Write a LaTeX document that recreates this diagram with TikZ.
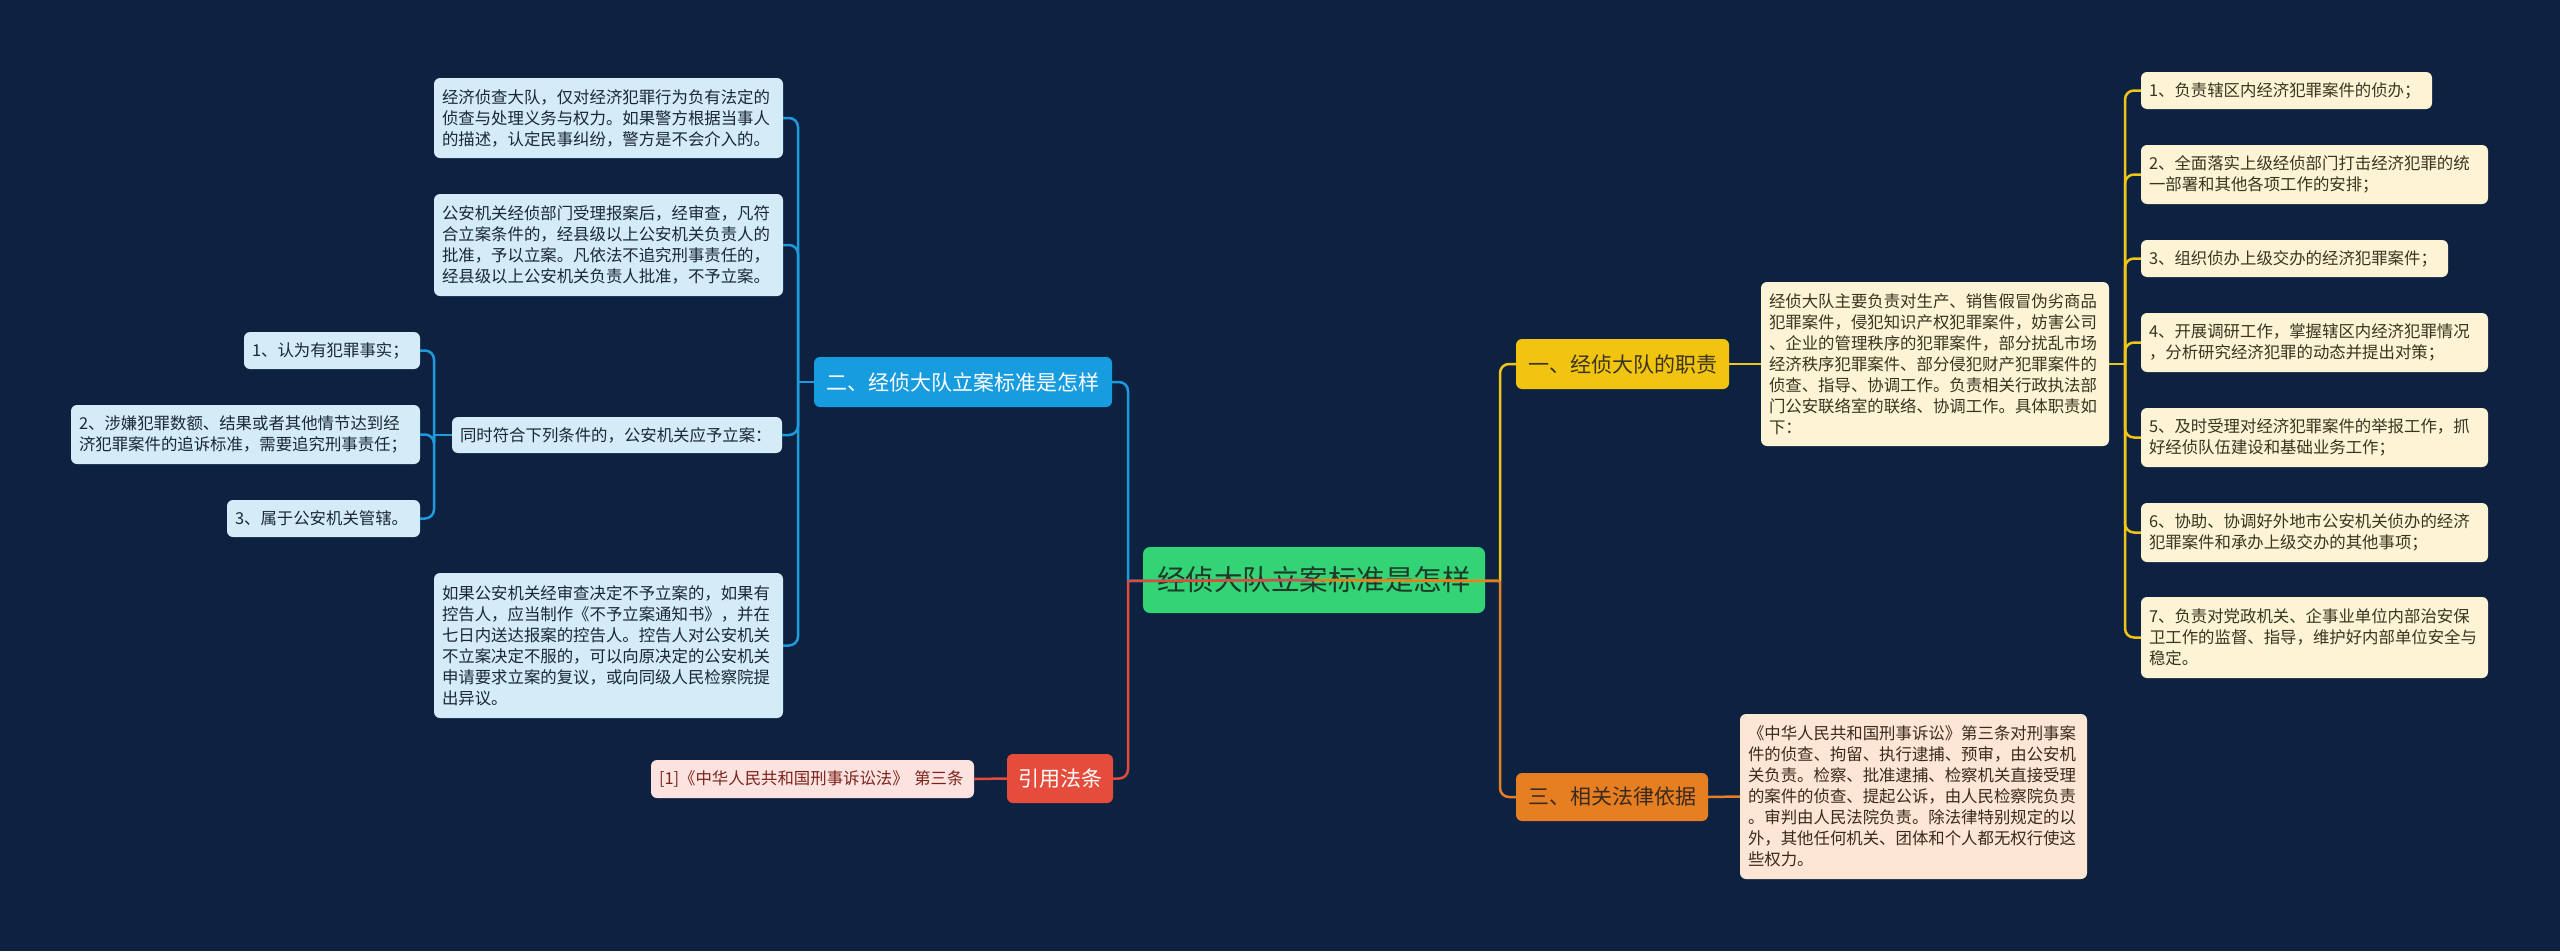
\documentclass[tikz,border=0pt]{standalone}
\usepackage{fontspec}
\setmainfont{Noto Sans CJK SC}
\definecolor{bg}{HTML}{0C2240}
\definecolor{rootfill}{HTML}{33D475}
\definecolor{roottext}{HTML}{1E3B2A}
\definecolor{bline}{HTML}{1E9BDF}
\definecolor{bfill}{HTML}{189CE0}
\definecolor{bleaf}{HTML}{D3ECF8}
\definecolor{bltext}{HTML}{1B2733}
\definecolor{rline}{HTML}{E04B3A}
\definecolor{rfill}{HTML}{E64C3C}
\definecolor{rleaf}{HTML}{FDE3DF}
\definecolor{rltext}{HTML}{7B241C}
\definecolor{yline}{HTML}{F0C419}
\definecolor{yfill}{HTML}{F1C40F}
\definecolor{yleaf}{HTML}{FDF4D6}
\definecolor{yltext}{HTML}{3B3320}
\definecolor{oline}{HTML}{E67E22}
\definecolor{ofill}{HTML}{E67E22}
\definecolor{oleaf}{HTML}{FDE6D3}
\definecolor{oltext}{HTML}{3A2A1E}
\begin{document}
\begin{tikzpicture}[x=1pt,y=-1pt,
  conn/.style={line width=2.5pt},
  rc/.style={rounded corners=9pt},
  box/.style={rounded corners=6pt, inner xsep=8pt, inner ysep=0pt, align=left,
    font=\fontsize{16.4}{21}\selectfont},
  bleafbox/.style={box, fill=bleaf, text=bltext},
  rleafbox/.style={box, fill=rleaf, text=rltext},
  yleafbox/.style={box, fill=yleaf, text=yltext},
  oleafbox/.style={box, fill=oleaf, text=oltext},
  branch/.style={rounded corners=6pt, inner sep=0pt, align=center,
    font=\fontsize{21}{24}\selectfont},
  rootbox/.style={rounded corners=7pt, inner sep=0pt, fill=rootfill, text=roottext,
    font=\fontsize{28.5}{32}\selectfont}
]
\fill[bg] (0,0) rectangle (2560,951);
\useasboundingbox (0,0) rectangle (2560,951);

% root
\node[rootbox, minimum width=342pt, minimum height=66pt] (root) at (1314,580) {经侦大队立案标准是怎样};

% branches
\node[branch, fill=bfill, text=white, minimum width=298pt, minimum height=50pt] (b2) at (963,382) {二、经侦大队立案标准是怎样};
\node[branch, fill=rfill, text=white, minimum width=106pt, minimum height=49pt] (r1) at (1060,778.5) {引用法条};
\node[branch, fill=yfill, text=yltext, minimum width=213pt, minimum height=50pt] (y1) at (1622.5,364) {一、经侦大队的职责};
\node[branch, fill=ofill, text=oltext, minimum width=192pt, minimum height=48pt] (o1) at (1612,797) {三、相关法律依据};

% blue leaves
\node[bleafbox, minimum width=349pt, text width=333pt, minimum height=80pt] (bA) at (608.5,118) {经济侦查大队，仅对经济犯罪行为负有法定的\\侦查与处理义务与权力。如果警方根据当事人\\的描述，认定民事纠纷，警方是不会介入的。};
\node[bleafbox, minimum width=349pt, text width=333pt, minimum height=102pt] (bB) at (608.5,245) {公安机关经侦部门受理报案后，经审查，凡符\\合立案条件的，经县级以上公安机关负责人的\\批准，予以立案。凡依法不追究刑事责任的，\\经县级以上公安机关负责人批准，不予立案。};
\node[bleafbox, minimum width=330pt, text width=314pt, minimum height=36pt] (bC) at (617,435) {同时符合下列条件的，公安机关应予立案：};
\node[bleafbox, minimum width=349pt, text width=333pt, minimum height=145pt] (bD) at (608.5,645.5) {如果公安机关经审查决定不予立案的，如果有\\控告人，应当制作《不予立案通知书》，并在\\七日内送达报案的控告人。控告人对公安机关\\不立案决定不服的，可以向原决定的公安机关\\申请要求立案的复议，或向同级人民检察院提\\出异议。};
\node[bleafbox, minimum width=176pt, text width=160pt, minimum height=37pt] (c1) at (332,350.5) {1、认为有犯罪事实；};
\node[bleafbox, minimum width=349pt, text width=333pt, minimum height=59pt] (c2) at (245.5,434.5) {2、涉嫌犯罪数额、结果或者其他情节达到经\\济犯罪案件的追诉标准，需要追究刑事责任；};
\node[bleafbox, minimum width=193pt, text width=177pt, minimum height=37pt] (c3) at (323.5,518.5) {3、属于公安机关管辖。};

% red leaf
\node[rleafbox, minimum width=323pt, text width=307pt, minimum height=38pt] (cit) at (812.5,779) {[1]《中华人民共和国刑事诉讼法》 第三条};

% yellow leaves
\node[yleafbox, minimum width=348pt, text width=332pt, minimum height=164pt] (yd) at (1935,364) {经侦大队主要负责对生产、销售假冒伪劣商品\\犯罪案件，侵犯知识产权犯罪案件，妨害公司\\、企业的管理秩序的犯罪案件，部分扰乱市场\\经济秩序犯罪案件、部分侵犯财产犯罪案件的\\侦查、指导、协调工作。负责相关行政执法部\\门公安联络室的联络、协调工作。具体职责如\\下：};
\node[yleafbox, minimum width=291pt, text width=275pt, minimum height=37pt] (i1) at (2286.5,90.5) {1、负责辖区内经济犯罪案件的侦办；};
\node[yleafbox, minimum width=347pt, text width=331pt, minimum height=59pt] (i2) at (2314.5,174.5) {2、全面落实上级经侦部门打击经济犯罪的统\\一部署和其他各项工作的安排；};
\node[yleafbox, minimum width=307pt, text width=291pt, minimum height=37pt] (i3) at (2294.5,258.5) {3、组织侦办上级交办的经济犯罪案件；};
\node[yleafbox, minimum width=347pt, text width=331pt, minimum height=59pt] (i4) at (2314.5,342.5) {4、开展调研工作，掌握辖区内经济犯罪情况\\，分析研究经济犯罪的动态并提出对策；};
\node[yleafbox, minimum width=347pt, text width=331pt, minimum height=59pt] (i5) at (2314.5,437.5) {5、及时受理对经济犯罪案件的举报工作，抓\\好经侦队伍建设和基础业务工作；};
\node[yleafbox, minimum width=347pt, text width=331pt, minimum height=59pt] (i6) at (2314.5,532.5) {6、协助、协调好外地市公安机关侦办的经济\\犯罪案件和承办上级交办的其他事项；};
\node[yleafbox, minimum width=347pt, text width=331pt, minimum height=81pt] (i7) at (2314.5,637.5) {7、负责对党政机关、企事业单位内部治安保\\卫工作的监督、指导，维护好内部单位安全与\\稳定。};

% orange leaf
\node[oleafbox, minimum width=347pt, text width=331pt, minimum height=165pt] (od) at (1913.5,796.5) {《中华人民共和国刑事诉讼》第三条对刑事案\\件的侦查、拘留、执行逮捕、预审，由公安机\\关负责。检察、批准逮捕、检察机关直接受理\\的案件的侦查、提起公诉，由人民检察院负责\\。审判由人民法院负责。除法律特别规定的以\\外，其他任何机关、团体和个人都无权行使这\\些权力。};

% bus coordinates
\coordinate (lbus) at (1128,581);
\coordinate (rbus) at (1500,581);
\coordinate (bb) at (798,382);
\coordinate (cb) at (434,435);
\coordinate (yb) at (2125,364);

% connectors: blue
\draw[conn, bline] (root.center) -- (lbus);
\draw[conn, bline, rc] (lbus) |- (b2.east);
\draw[conn, bline] (b2.west) -- (bb);
\draw[conn, bline, rc] (bb) |- (bA.east);
\draw[conn, bline, rc] (bb) |- (bB.east);
\draw[conn, bline, rc] (bb) |- (bC.east);
\draw[conn, bline, rc] (bb) |- (bD.east);
\draw[conn, bline] (bC.west) -- (cb);
\draw[conn, bline, rc] (cb) |- (c1.east);
\draw[conn, bline, rc] (cb) |- (c2.east);
\draw[conn, bline, rc] (cb) |- (c3.east);
% red
\draw[conn, rline] (root.center) -- (lbus);
\draw[conn, rline, rc] (lbus) |- (r1.east);
\draw[conn, rline] (r1.west) -- (cit.east);
% yellow
\draw[conn, yline] (root.center) -- (rbus);
\draw[conn, yline, rc] (rbus) |- (y1.west);
\draw[conn, yline] (y1.east) -- (yd.west);
\draw[conn, yline] (yd.east) -- (yb);
\draw[conn, yline, rc] (yb) |- (i1.west);
\draw[conn, yline, rc] (yb) |- (i2.west);
\draw[conn, yline, rc] (yb) |- (i3.west);
\draw[conn, yline, rc] (yb) |- (i4.west);
\draw[conn, yline, rc] (yb) |- (i5.west);
\draw[conn, yline, rc] (yb) |- (i6.west);
\draw[conn, yline, rc] (yb) |- (i7.west);
% orange
\draw[conn, oline] (root.center) -- (rbus);
\draw[conn, oline, rc] (rbus) |- (o1.west);
\draw[conn, oline] (o1.east) -- (od.west);
\end{tikzpicture}
\end{document}
